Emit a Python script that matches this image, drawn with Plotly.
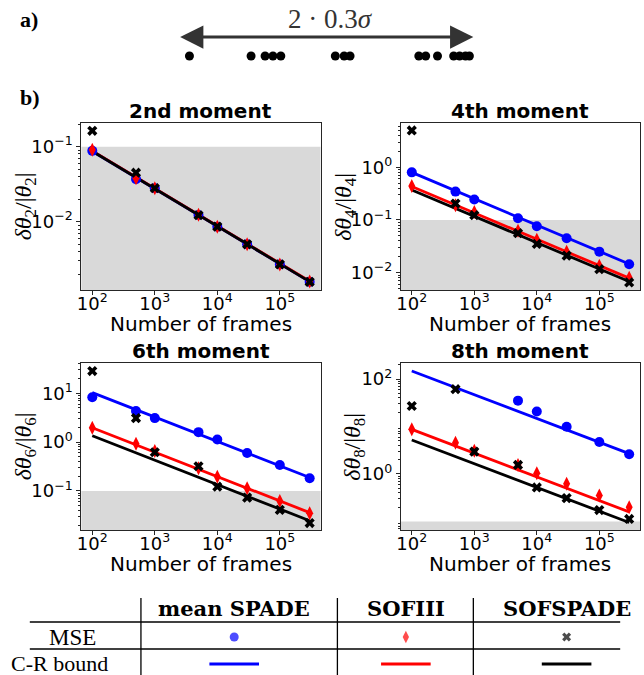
import math
import plotly.graph_objects as go

# ---------------- data ----------------
frames = [100, 500, 1000, 5000, 10000, 30000, 100000, 300000]

# 2nd moment
m2_mse_spade = [0.088, 0.037, 0.028, 0.0123, 0.0086, 0.0050, 0.0027, 0.00158]
m2_mse_sofi = [0.091, 0.038, 0.028, 0.0124, 0.0086, 0.0050, 0.0027, 0.00160]
m2_mse_sofspade = [0.163, 0.045, 0.028, 0.0122, 0.0086, 0.0050, 0.0027, 0.00158]
m2_cr_spade = [0.087, 0.0389, 0.0275, 0.0123, 0.0087, 0.00502, 0.00275, 0.00159]
m2_cr_sofi = [0.088, 0.0393, 0.0278, 0.0124, 0.0088, 0.00508, 0.00278, 0.00161]
m2_cr_sofspade = [0.087, 0.0389, 0.0275, 0.0123, 0.0087, 0.00502, 0.00275, 0.00159]

# 4th moment
m4_mse_spade = [0.80, 0.345, 0.245, 0.108, 0.076, 0.045, 0.025, 0.0144]
m4_mse_sofi = [0.44, 0.19, 0.142, 0.062, 0.042, 0.025, 0.0135, 0.0080]
m4_mse_sofspade = [5.0, 0.205, 0.123, 0.056, 0.035, 0.021, 0.0116, 0.0065]
m4_cr_spade = [0.80, 0.358, 0.253, 0.113, 0.080, 0.0462, 0.0253, 0.0146]
m4_cr_sofi = [0.43, 0.192, 0.136, 0.0608, 0.043, 0.0248, 0.0136, 0.00785]
m4_cr_sofspade = [0.37, 0.165, 0.117, 0.0523, 0.037, 0.0214, 0.0117, 0.00676]

# 6th moment
m6_mse_spade = [8.3, 4.35, 3.1, 1.6, 1.13, 0.60, 0.34, 0.182]
m6_mse_sofi = [1.97, 0.93, 0.66, 0.29, 0.195, 0.114, 0.062, 0.035]
m6_mse_sofspade = [28.5, 3.1, 0.62, 0.32, 0.122, 0.073, 0.041, 0.022]
m6_cr_spade = [10.3, 4.61, 3.26, 1.46, 1.03, 0.595, 0.326, 0.188]
m6_cr_sofi = [1.97, 0.881, 0.623, 0.279, 0.197, 0.114, 0.0623, 0.036]
m6_cr_sofspade = [1.35, 0.604, 0.427, 0.191, 0.135, 0.078, 0.0427, 0.0246]

# 8th moment
m8_mse_spade = [None, None, None, 35, 20.6, 9.9, 4.7, 2.6]
m8_mse_sofi = [8.7, 4.55, 3.1, 1.55, 1.03, 0.62, 0.35, 0.20]
m8_mse_sofspade = [27, 61, 2.95, 1.55, 0.52, 0.31, 0.174, 0.113]
m8_cr_spade = [147, 65.7, 46.5, 20.8, 14.7, 8.49, 4.65, 2.68]
m8_cr_sofi = [8.7, 3.89, 2.75, 1.23, 0.87, 0.502, 0.275, 0.159]
m8_cr_sofspade = [5.2, 2.33, 1.64, 0.735, 0.52, 0.30, 0.164, 0.095]

panel_titles = ["2nd moment", "4th moment", "6th moment", "8th moment"]
moment_orders = [2, 4, 6, 8]
x_tick_exps = [2, 3, 4, 5]
y_tick_exps = [[-2, -1], [-2, -1, 0], [-1, 0, 1], [0, 2]]
y_log_ranges = [[-2.91, -0.684], [-2.33, 0.84], [-1.80, 1.62], [-1.18, 2.337]]
x_log_range = [1.826, 5.651]
shade_level = 0.1

methods = ["mean SPADE", "SOFIII", "SOFSPADE"]
source_positions = [-0.278, -0.1525, -0.124, -0.108, -0.092, 0.019, 0.037, 0.049,
                    0.189, 0.203, 0.227, 0.260, 0.272, 0.284, 0.292]
half_separation = 0.3

panels = [
    (m2_mse_spade, m2_mse_sofi, m2_mse_sofspade, m2_cr_spade, m2_cr_sofi, m2_cr_sofspade),
    (m4_mse_spade, m4_mse_sofi, m4_mse_sofspade, m4_cr_spade, m4_cr_sofi, m4_cr_sofspade),
    (m6_mse_spade, m6_mse_sofi, m6_mse_sofspade, m6_cr_spade, m6_cr_sofi, m6_cr_sofspade),
    (m8_mse_spade, m8_mse_sofi, m8_mse_sofspade, m8_cr_spade, m8_cr_sofi, m8_cr_sofspade),
]

# ---------------- style ----------------
W, H = 644, 675
colors = ["#0000ff", "#ff0000", "#000000"]
symbols = ["circle", "diamond-tall", "x"]
msizes = [10, 10, 9]
frame_col = "#262626"
sans = "DejaVu Sans"
serif = "Liberation Serif"

# plot boxes in pixels: (left, right, top, bottom)
boxes = [(77, 318, 123, 290), (399, 640, 123, 290), (77, 318, 363, 530), (399, 640, 363, 530)]
ylabel_x = [20, 342, 20, 351]


def pow_label(e):
    return "10<sup>%s</sup>" % (str(e).replace("-", "\u2212"))


def minor_vals(lo, hi):
    out = []
    for k in range(math.floor(lo), math.ceil(hi) + 1):
        for d in range(2, 10):
            v = d * 10.0 ** k
            if lo <= math.log10(v) <= hi:
                out.append(v)
    return out


fig = go.Figure()
layout = dict(
    width=W, height=H, margin=dict(l=0, r=0, t=0, b=0),
    paper_bgcolor="white", plot_bgcolor="rgba(0,0,0,0)", showlegend=False,
)

for i, (box, data) in enumerate(zip(boxes, panels)):
    l, r, t, b = box
    sfx = "" if i == 0 else str(i + 1)
    xa, ya = "x" + sfx, "y" + sfx
    layout["xaxis" + sfx] = dict(
        domain=[l / W, r / W], anchor=ya, type="log", range=x_log_range,
        tickmode="array", tickvals=[10 ** e for e in x_tick_exps],
        ticktext=[pow_label(e) for e in x_tick_exps], ticks="outside", ticklen=4,
        ticklabelstandoff=-7,
        tickcolor=frame_col, showline=True, mirror=True, linecolor=frame_col, linewidth=1,
        showgrid=False, zeroline=False, tickfont=dict(family=sans, size=18, color="black"),
    )
    layout["yaxis" + sfx] = dict(
        domain=[1 - b / H, 1 - t / H], anchor=xa, type="log", range=y_log_ranges[i],
        tickmode="array", tickvals=[10.0 ** e for e in y_tick_exps[i]],
        ticktext=[pow_label(e) for e in y_tick_exps[i]], ticks="outside", ticklen=4,
        tickcolor=frame_col, showline=True, mirror=True, linecolor=frame_col, linewidth=1,
        showgrid=False, zeroline=False, tickfont=dict(family=sans, size=18, color="black"),
        minor=dict(tickmode="array", tickvals=minor_vals(*y_log_ranges[i]), ticks="outside",
                   ticklen=2, tickcolor=frame_col, showgrid=False),
    )
    mse = data[:3]
    cr = data[3:]
    for k in range(3):
        fig.add_trace(go.Scatter(x=frames, y=cr[k], mode="lines", xaxis=xa, yaxis=ya,
                                 line=dict(color=colors[k], width=2.8)))
    for k in range(3):
        fig.add_trace(go.Scatter(x=frames, y=mse[k], mode="markers", xaxis=xa, yaxis=ya,
                                 marker=dict(color=colors[k], symbol=symbols[k], size=msizes[k],
                                             line=dict(width=0))))
    # grey band below the 10% relative error level
    fig.add_shape(type="rect", xref=xa + " domain", yref=ya, x0=0, x1=1,
                  y0=10 ** y_log_ranges[i][0], y1=shade_level, fillcolor="#d9d9d9",
                  line=dict(width=0), layer="below")

# overlay pixel axes
layout["xaxis5"] = dict(domain=[0, 1], range=[0, W], visible=False, anchor="y5", fixedrange=True)
layout["yaxis5"] = dict(domain=[0, 1], range=[H, 0], visible=False, anchor="x5", fixedrange=True)
layout["xaxis6"] = dict(domain=[175 / W, 472 / W], range=[-half_separation, half_separation],
                        visible=False, anchor="y5", fixedrange=True)
fig.update_layout(**layout)

annotations = []


def txt(x, y, s, size, family=sans, color="black", angle=0, xanchor="center"):
    annotations.append(dict(x=x, y=y, xref="x5", yref="y5", text=s, showarrow=False,
                            font=dict(family=family, size=size, color=color),
                            textangle=angle, xanchor=xanchor, yanchor="middle"))


for i, box in enumerate(boxes):
    l, r, t, b = box
    cx = (l + r) / 2
    txt(cx, t - 12, "<b>%s</b>" % panel_titles[i], 20)
    txt(cx, b + 34, "Number of frames", 20)
    n = moment_orders[i]
    txt(ylabel_x[i], (t + b) / 2,
        "<i>δθ</i><sub>%d</sub>/|<i>θ</i><sub>%d</sub>|" % (n, n), 24, family=serif, angle=-90)

# panel a)
txt(24, 19, "<b>a)</b>", 22, family=serif)
txt(25, 97, "<b>b)</b>", 22, family=serif)
txt(328, 19, "2 · 0.3<i>σ</i>", 27, family=serif, color="#333333")
annotations.append(dict(x=half_separation, y=37, ax=-half_separation, ay=37,
                        xref="x6", yref="y5", axref="x6", ayref="y5", text="",
                        showarrow=True, arrowhead=2, arrowside="end+start",
                        arrowsize=1.55, arrowwidth=3, arrowcolor="#333333"))
fig.add_trace(go.Scatter(x=source_positions, y=[56] * len(source_positions), mode="markers",
                         xaxis="x6", yaxis="y5", cliponaxis=False,
                         marker=dict(color="black", size=9, line=dict(width=0))))

# legend table
col_centers = [231, 404, 566]
for k, name in enumerate(methods):
    txt(col_centers[k], 608, "<b>%s</b>" % name, 21, family="DejaVu Serif")
txt(68, 637, "MSE", 23, family=serif)
txt(55, 663, "C-R bound", 22, family=serif)
fig.add_trace(go.Scatter(x=col_centers, y=[637] * 3, mode="markers", xaxis="x5", yaxis="y5",
                         cliponaxis=False,
                         marker=dict(color=colors, symbol=symbols, size=[9, 9, 8],
                                     line=dict(width=0))))
for k in range(3):
    fig.add_shape(type="line", xref="x5", yref="y5", x0=col_centers[k] - 25, x1=col_centers[k] + 25,
                  y0=664, y1=664, line=dict(color=colors[k], width=3))
for yy in (622, 649):
    fig.add_shape(type="line", xref="x5", yref="y5", x0=25, x1=620, y0=yy, y1=yy,
                  line=dict(color="black", width=1.3))
for xx in (137, 335, 472):
    fig.add_shape(type="line", xref="x5", yref="y5", x0=xx, x1=xx, y0=598, y1=675,
                  line=dict(color="black", width=1.3))

fig.update_layout(annotations=annotations)
fig.write_html("out.html")
